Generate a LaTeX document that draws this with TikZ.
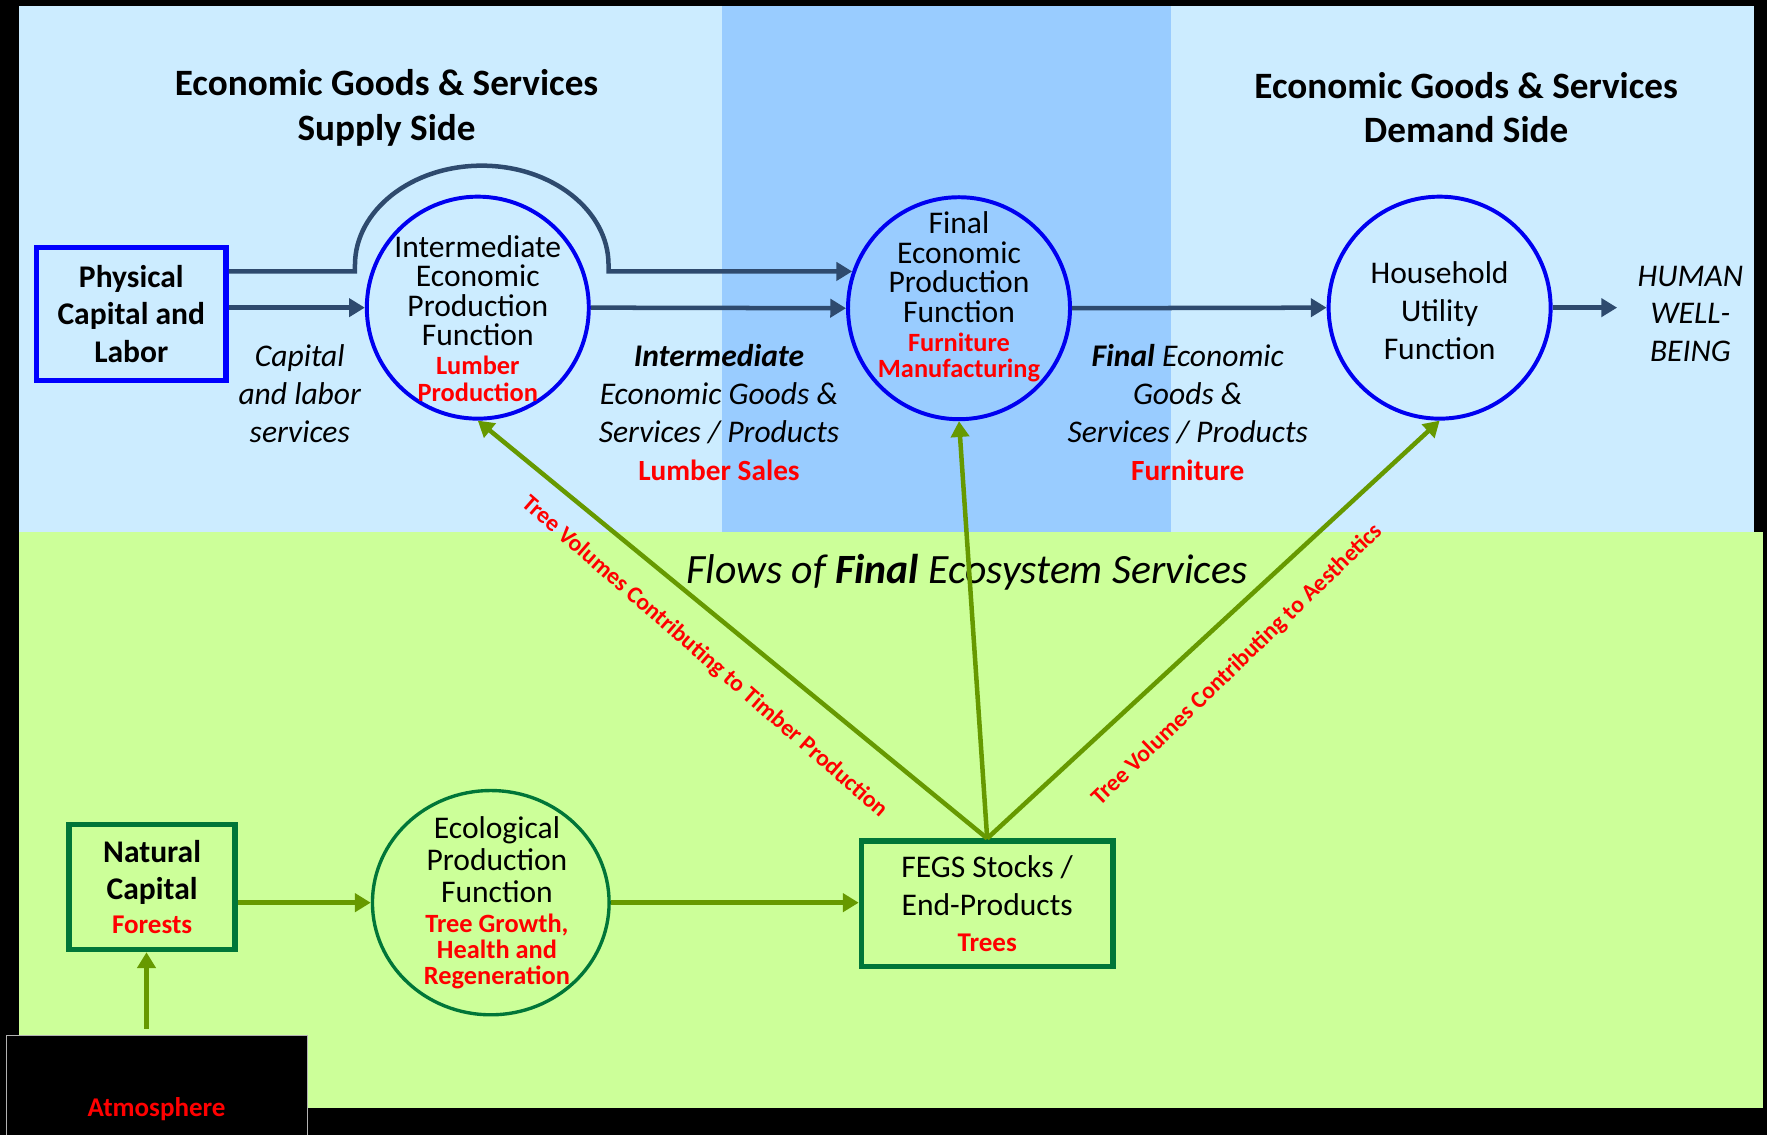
\documentclass[tikz,border=0pt]{standalone}
\usepackage{fontspec}
\setmainfont{Carlito}
\usetikzlibrary{arrows.meta,shapes.geometric}
\definecolor{navyA}{RGB}{46,74,110}
\definecolor{ltblue}{RGB}{204,236,255}
\definecolor{midblue}{RGB}{153,204,255}
\definecolor{ltgreen}{RGB}{204,255,153}
\definecolor{boxgreen}{RGB}{0,118,56}
\definecolor{arrgreen}{RGB}{102,153,0}
\definecolor{circblue}{RGB}{0,0,240}
\newcommand\fsz[2]{\fontsize{#1}{#2}\selectfont}
\begin{document}
\begin{tikzpicture}[x=0.5pt,y=-0.5pt,
  navarr/.style={draw=navyA, line width=2pt, -{Triangle[length=7pt,width=8pt]}},
  grnarr/.style={draw=arrgreen, line width=2pt, -{Triangle[length=7pt,width=8pt]}},
  bcirc/.style={circle, draw=circblue, line width=1.75pt, minimum size=98.5pt, inner sep=0pt},
  bluebox/.style={rectangle, draw=blue, line width=2.5pt, inner sep=0pt, align=center},
  greenbox/.style={rectangle, draw=boxgreen, line width=2.5pt, inner sep=0pt, align=flush center},
  tblock/.style={align=flush center, inner sep=0pt, text width=#1},
  tblock/.default=130pt,
  redlbl/.style={text=red, font=\fsz{10.5}{12}\bfseries}]
\useasboundingbox (0,0) rectangle (1568,1007);
% backgrounds
\fill[black] (0,0) rectangle (1568,1007);
\fill[ltblue] (17,5) rectangle (1556,472);
\fill[midblue] (641,5) rectangle (1039,472);
\fill[ltgreen] (17,472) rectangle (1564,983);

% titles
\node[tblock=220pt, font=\fsz{16.5}{19.75}\bfseries] (supT) at (343,95.5) {Economic Goods \& Services\\Supply Side\par};
\node[tblock=220pt, font=\fsz{16.5}{19.75}\bfseries] (demT) at (1301,95.5) {Economic Goods \& Services\\Demand Side\par};

% economic nodes
\node[bluebox, minimum width=84pt, minimum height=59pt, font=\fsz{14}{16.75}\bfseries] (phys) at (116.5,278.5) {Physical\\Capital and\\Labor};
\node[bcirc] (int) at (424,273) {};
\node[bcirc] (fin) at (851,273.5) {};
\node[bcirc] (hh) at (1277.5,273) {};

\node[tblock=110pt] (intT) at (424,283) {{\fsz{14}{13}Intermediate\\Economic\\Production\\Function\par}\vspace{1pt}{\fsz{11.7}{12}\bfseries\color{red}Lumber\\Production\par}};
\node[tblock=110pt] (finT) at (851,263.5) {{\fsz{14}{13.2}Final\\Economic\\Production\\Function\par}\vspace{1.5pt}{\fsz{11.7}{11.5}\bfseries\color{red}Furniture\\Manufacturing\par}};
\node[tblock=110pt, font=\fsz{14}{16.75}] (hhT) at (1277.5,275.5) {Household\\Utility\\Function\par};
\node[tblock=90pt, font=\fsz{14}{16.75}\itshape] (hwT) at (1500,278.5) {HUMAN\\WELL-\\BEING\par};

\node[tblock=80pt, font=\fsz{14}{16.75}\itshape] (capL) at (266,349.5) {Capital\\and labor\\services\par};
\node[tblock=130pt, font=\fsz{14}{16.75}\itshape] (intL) at (638,366) {{\bfseries Intermediate}\\Economic Goods \&\\Services / Products\\{\upshape\bfseries\fontsize{13}{16.75}\selectfont\color{red}Lumber Sales}\par};
\node[tblock=130pt, font=\fsz{14}{16.75}\itshape] (finL) at (1054,366) {{\bfseries Final} Economic\\Goods \&\\Services / Products\\{\upshape\bfseries\fontsize{13}{16.75}\selectfont\color{red}Furniture}\par};

% economic connectors
\coordinate (hL) at (315,0);
\coordinate (hR) at (540,0);
\coordinate (hwA) at (1435,273);
\draw[navarr] (phys.east |- int.west) -- (int.west);
\draw[navarr] (int.east) -- (fin.west);
\draw[navarr] (fin.east) -- (hh.west);
\draw[navarr] (hh.east) -- (hwA);
\draw[navarr] (phys.east |- fin.161) -- (hL |- fin.161) -- (315,235)
  .. controls (315,187) and (365,147) .. (427.5,147)
  .. controls (490,147) and (540,187) .. (540,235) -- (hR |- fin.161) -- (fin.161);

% ecosystem part
\node[font=\fsz{18.5}{22}\itshape] (flowT) at (858,508) {Flows of {\bfseries Final} Ecosystem Services};

\node[greenbox, minimum width=73.5pt, minimum height=55.5pt, text width=70pt] (nat) at (135,787) {{\fsz{14}{16.5}\bfseries Natural\\Capital\par}{\fsz{12}{15}\bfseries\color{red}Forests\par}};
\node[ellipse, draw=boxgreen, line width=1.5pt, minimum width=105pt, minimum height=99.5pt, inner sep=0pt] (eco) at (435.5,801) {};
\node[tblock=110pt] (ecoT) at (441,801) {{\fsz{14}{14.25}Ecological\\Production\\Function\par}\vspace{2pt}{\fsz{11.7}{11.5}\bfseries\color{red}Tree Growth,\\Health and\\Regeneration\par}};
\node[greenbox, minimum width=111.5pt, minimum height=55.5pt, text width=105pt] (fegs) at (876,802) {{\fsz{14}{17}FEGS Stocks /\\End-Products\par}{\fsz{12}{16}\bfseries\color{red}Trees\par}};

\node[rectangle, fill=black, draw=gray!60, line width=0.5pt, minimum width=133.5pt, minimum height=50pt, inner sep=0pt, anchor=north west] (atm) at (5,918) {};
\node[text=red, font=\fsz{12}{14}\bfseries] (atmT) at (139,984) {Atmosphere};

\coordinate (atop) at (130,913);
\draw[grnarr] (atop) -- (atop |- nat.south);
\draw[grnarr] (nat.east |- eco.west) -- (eco.west);
\draw[grnarr] (eco.east) -- (eco.east -| fegs.west);
\draw[grnarr] (fegs.north) -- (int.south);
\draw[grnarr] (fegs.north) -- (fin.south);
\draw[grnarr] (fegs.north) -- (hh.south);

\node[redlbl, rotate=-41] (lblT) at (625,583) {Tree Volumes Contributing to Timber Production};
\node[redlbl, rotate=44] (lblA) at (1098,590) {Tree Volumes Contributing to Aesthetics};
\end{tikzpicture}
\end{document}
